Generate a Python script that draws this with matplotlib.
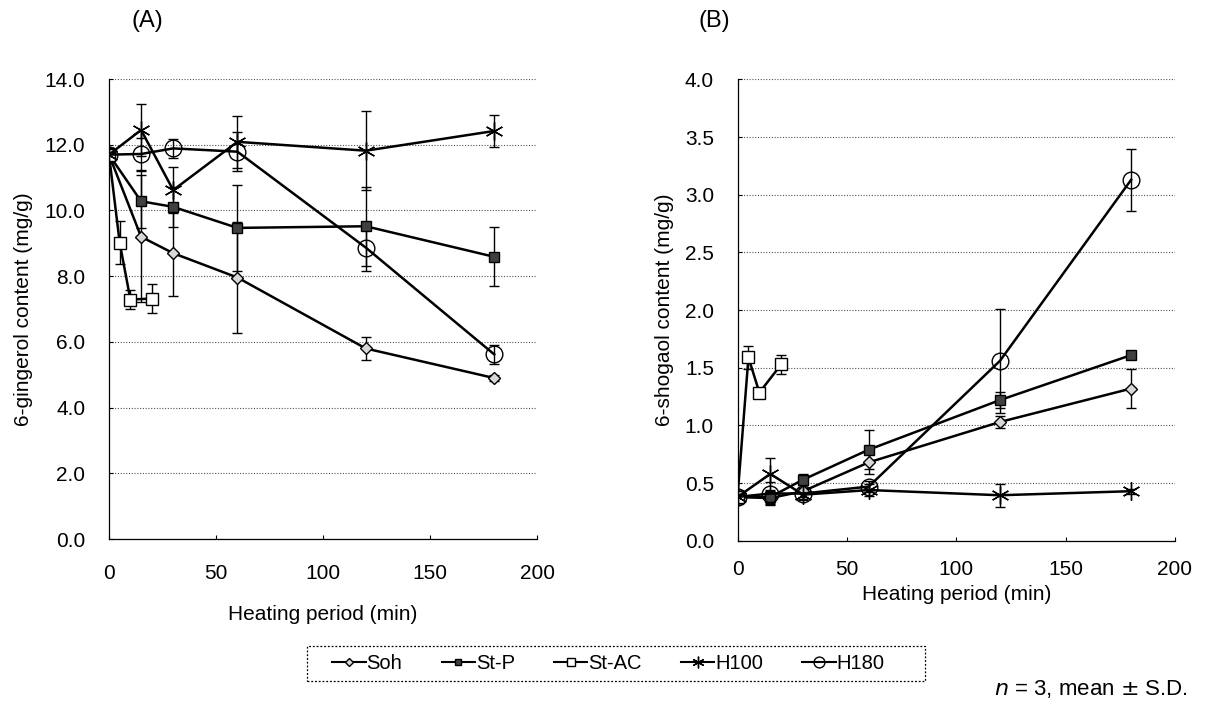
import matplotlib.pyplot as plt
from matplotlib.lines import Line2D
from matplotlib.patches import Rectangle

plt.rcParams['font.family'] = ['Liberation Sans', 'DejaVu Sans']

# heating periods (min)
t_main = [0, 15, 30, 60, 120, 180]
t_stac = [0, 5, 10, 20]

# (A) 6-gingerol content (mg/g)
gin_soh = [11.7, 9.2, 8.7, 7.96, 5.8, 4.9]
gin_soh_sd = [0.2, 2.0, 1.3, 1.7, 0.35, 0.1]
gin_stp = [11.7, 10.28, 10.11, 9.47, 9.52, 8.59]
gin_stp_sd = [0.2, 0.8, 0.6, 1.3, 1.2, 0.9]
gin_stac = [11.7, 9.02, 7.29, 7.32]
gin_stac_sd = [0.2, 0.65, 0.3, 0.45]
gin_h100 = [11.7, 12.45, 10.62, 12.09, 11.82, 12.42]
gin_h100_sd = [0.2, 0.8, 0.7, 0.8, 1.2, 0.5]
gin_h180 = [11.7, 11.72, 11.89, 11.79, 8.87, 5.62]
gin_h180_sd = [0.2, 0.5, 0.3, 0.6, 0.7, 0.3]

# (B) 6-shogaol content (mg/g)
sho_soh = [0.38, 0.37, 0.43, 0.68, 1.03, 1.32]
sho_soh_sd = [0.05, 0.05, 0.05, 0.1, 0.05, 0.17]
sho_stp = [0.38, 0.38, 0.53, 0.79, 1.22, 1.61]
sho_stp_sd = [0.05, 0.05, 0.05, 0.17, 0.07, 0.03]
sho_stac = [0.38, 1.59, 1.285, 1.53]
sho_stac_sd = [0.05, 0.1, 0.02, 0.08]
sho_h100 = [0.38, 0.58, 0.40, 0.44, 0.395, 0.43]
sho_h100_sd = [0.05, 0.14, 0.05, 0.05, 0.1, 0.02]
sho_h180 = [0.38, 0.41, 0.41, 0.47, 1.56, 3.13]
sho_h180_sd = [0.05, 0.1, 0.05, 0.05, 0.45, 0.27]

labels = ['Soh', 'St-P', 'St-AC', 'H100', 'H180']
asterisk = (6, 2, 0)
styles = {
    'Soh': dict(marker='D', ms=6, mfc='#d8d8d8', mec='black'),
    'St-P': dict(marker='s', ms=7, mfc='#404040', mec='black'),
    'St-AC': dict(marker='s', ms=8, mfc='white', mec='black', mew=1.0),
    'H100': dict(marker=asterisk, ms=13, mfc='none', mec='black', mew=1.0),
    'H180': dict(marker='o', ms=12, mfc='none', mec='black', mew=1.0),
}

FS = 15

fig = plt.figure(figsize=(12.15, 7.06), dpi=100)
axA = fig.add_axes([0.0897, 0.2365, 0.3523, 0.6515])
axB = fig.add_axes([0.607, 0.234, 0.360, 0.6535])

panelA = [(t_main, gin_soh, gin_soh_sd), (t_main, gin_stp, gin_stp_sd),
          (t_stac, gin_stac, gin_stac_sd), (t_main, gin_h100, gin_h100_sd),
          (t_main, gin_h180, gin_h180_sd)]
panelB = [(t_main, sho_soh, sho_soh_sd), (t_main, sho_stp, sho_stp_sd),
          (t_stac, sho_stac, sho_stac_sd), (t_main, sho_h100, sho_h100_sd),
          (t_main, sho_h180, sho_h180_sd)]


def draw(ax, series, ymax, ystep, ylabel, xpad, xlabelpad):
    for lab, (x, y, sd) in zip(labels, series):
        ax.errorbar(x, y, yerr=sd, color='black', lw=1.8, elinewidth=1.0,
                    capsize=3.5, capthick=1.0, zorder=3, **styles[lab])
    ax.set_xlim(0, 200)
    ax.set_ylim(0, ymax)
    ax.set_xticks([0, 50, 100, 150, 200])
    yt = [i * ystep for i in range(int(round(ymax / ystep)) + 1)]
    ax.set_yticks(yt)
    ax.set_yticklabels(['%.1f' % v for v in yt])
    ax.yaxis.grid(True, linestyle=(0, (1, 1.5)), color='#555555', lw=0.8)
    ax.set_axisbelow(True)
    for s in ['top', 'right']:
        ax.spines[s].set_visible(False)
    ax.spines['left'].set_linewidth(0.9)
    ax.spines['bottom'].set_linewidth(0.9)
    ax.tick_params(axis='both', labelsize=FS, direction='in', length=3,
                   width=0.8)
    ax.tick_params(axis='y', pad=17)
    ax.tick_params(axis='x', pad=xpad)
    ax.set_ylabel(ylabel, fontsize=FS, labelpad=8)
    ax.set_xlabel('Heating period (min)', fontsize=FS, labelpad=xlabelpad)


draw(axA, panelA, 14.0, 2.0, '6-gingerol content (mg/g)', 18, 16)
draw(axB, panelB, 4.0, 0.5, '6-shogaol content (mg/g)', 14, 4)

fig.text(147 / 1215, 1 - 21 / 706, '(A)', fontsize=17, ha='center', va='center')
fig.text(714 / 1215, 1 - 21 / 706, '(B)', fontsize=17, ha='center', va='center')

# legend: small markers, dotted box drawn separately
handles = []
for lab in labels:
    st = dict(styles[lab])
    st['ms'] = st['ms'] * 0.65
    handles.append(Line2D([], [], color='black', lw=1.5, **st))
fig.legend(handles, labels, loc='center', bbox_to_anchor=(608.5 / 1215, 0.0602),
           ncol=5, fontsize=14.5, frameon=False, handlelength=1.65,
           handletextpad=0.05, columnspacing=1.95)
fig.patches.append(Rectangle((307 / 1215, 1 - 681 / 706), 618 / 1215, 35 / 706,
                             transform=fig.transFigure, fill=False,
                             edgecolor='black', lw=0.9,
                             linestyle=(0, (1.5, 1.5))))

fig.text(1188 / 1215, 1 - 689 / 706, r'$n$ = 3, mean $\pm$ S.D.', fontsize=16,
         ha='right', va='center')

fig.savefig('out.png', dpi=100)
